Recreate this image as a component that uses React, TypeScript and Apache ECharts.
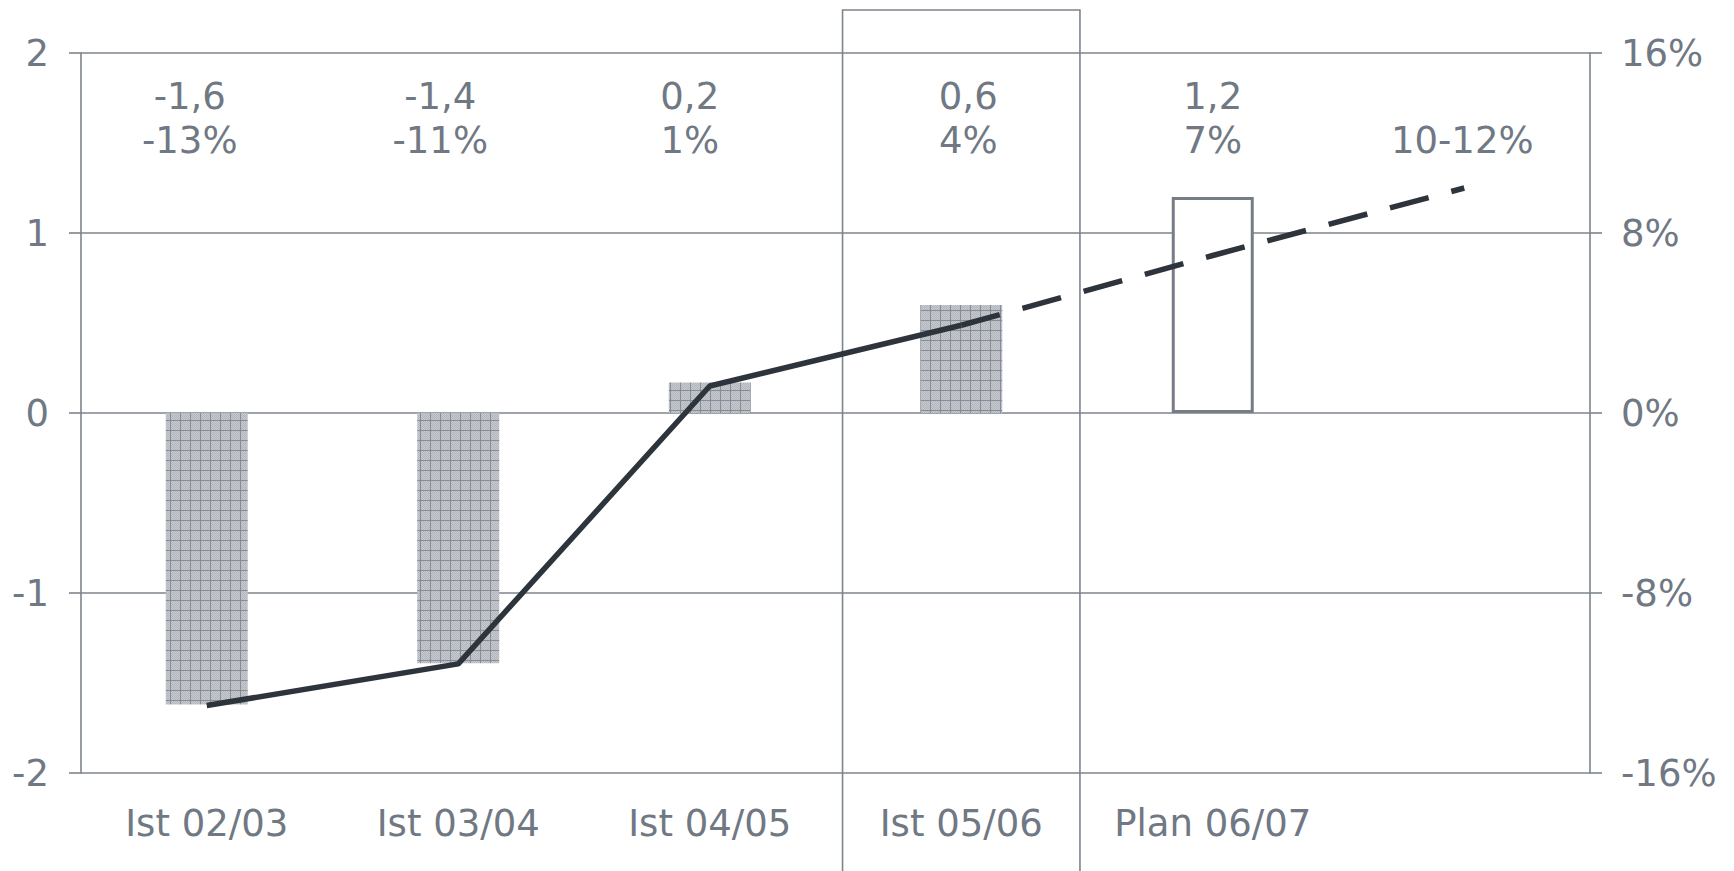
import React, { useEffect, useRef } from 'react';
import * as echarts from 'echarts';

// ---- data ----
const categories = ['Ist 02/03', 'Ist 03/04', 'Ist 04/05', 'Ist 05/06', 'Plan 06/07', ''];
const resultValues = [-1.62, -1.39, 0.17, 0.6, 1.2, null];
const growthActual = [-13, -11.15, 1.2, 3.9, null, null];
const growthPlan = [null, null, null, 3.9, 7, 10];
const valueLabels = ['-1,6', '-1,4', '0,2', '0,6', '1,2', ''];
const pctLabels = ['-13%', '-11%', '1%', '4%', '7%', '10-12%'];
const leftAxis = { min: -2, max: 2, interval: 1 };
const rightAxis = { min: -16, max: 16, interval: 8 };
const highlightCategory = 'Ist 05/06';
const planCategoryIndex = 4;

// ---- styles ----
const TEXT = '#707884';
const LINE_GRAY = '#7d848d';
const DARK = '#2d343c';
const FONT = 'DejaVu Sans';
const FS = 37;
const labelShift = [-17, -18, -20, 7, 0, -2];
const ROW1 = 1.756;
const ROW2 = 1.514;

function makePattern(): HTMLCanvasElement {
  const c = document.createElement('canvas');
  c.width = 10;
  c.height = 10;
  const ctx = c.getContext('2d')!;
  ctx.fillStyle = '#c6c9ce';
  ctx.fillRect(0, 0, 10, 10);
  ctx.fillStyle = '#b3b7bd';
  for (let y = 0; y < 10; y++) {
    for (let x = (y % 2); x < 10; x += 2) ctx.fillRect(x, y, 1, 1);
  }
  ctx.fillStyle = '#878d96';
  ctx.fillRect(0, 0, 10, 1);
  ctx.fillRect(0, 0, 1, 10);
  return c;
}

export default function App() {
  const ref = useRef<HTMLDivElement>(null);
  useEffect(() => {
    if (!ref.current) return;
    const chart = echarts.init(ref.current, null, { renderer: 'svg' });
    const pattern = { image: makePattern(), repeat: 'repeat' };

    const barData = resultValues.map((v, i) =>
      i === planCategoryIndex
        ? { value: v, itemStyle: { color: '#ffffff', borderColor: '#767d87', borderWidth: 3 } }
        : { value: v, itemStyle: { color: pattern } }
    );

    const labelSeries = (texts: string[], row: number) => ({
      type: 'scatter',
      yAxisIndex: 0,
      symbolSize: 1,
      itemStyle: { color: 'rgba(0,0,0,0)', opacity: 1 },
      silent: true,
      z: 5,
      data: texts.map((t, i) => ({
        value: [i, row],
        label: {
          show: t !== '',
          position: 'inside',
          formatter: t,
          offset: [labelShift[i], 0],
          color: TEXT,
          opacity: 1,
          fontFamily: FONT,
          fontSize: FS,
        },
      })),
    });

    chart.setOption({
      animation: false,
      grid: { left: 81, right: 144, top: 53, bottom: 98, containLabel: false },
      xAxis: {
        type: 'category',
        data: categories,
        boundaryGap: true,
        axisLine: { show: false },
        axisTick: { show: false },
        splitLine: { show: false },
        axisLabel: { color: TEXT, fontFamily: FONT, fontSize: FS, margin: 32, interval: 0 },
      },
      yAxis: [
        {
          type: 'value',
          min: leftAxis.min,
          max: leftAxis.max,
          interval: leftAxis.interval,
          position: 'left',
          axisLine: { show: true, lineStyle: { color: LINE_GRAY, width: 1.6 } },
          axisTick: { show: true, length: 12, lineStyle: { color: LINE_GRAY, width: 1.6 } },
          splitLine: { show: true, lineStyle: { color: LINE_GRAY, width: 1.6 } },
          axisLabel: { color: TEXT, fontFamily: FONT, fontSize: FS, margin: 32 },
        },
        {
          type: 'value',
          min: rightAxis.min,
          max: rightAxis.max,
          interval: rightAxis.interval,
          position: 'right',
          axisLine: { show: true, lineStyle: { color: LINE_GRAY, width: 1.6 } },
          axisTick: { show: true, length: 12, lineStyle: { color: LINE_GRAY, width: 1.6 } },
          splitLine: { show: false },
          axisLabel: { color: TEXT, fontFamily: FONT, fontSize: FS, margin: 31, formatter: '{value}%' },
        },
      ],
      series: [
        {
          type: 'bar',
          yAxisIndex: 0,
          data: barData,
          barWidth: '32.6%',
          z: 2,
        },
        {
          type: 'line',
          yAxisIndex: 1,
          data: growthActual,
          symbol: 'none',
          lineStyle: { color: DARK, width: 5.5 },
          z: 4,
        },
        {
          type: 'line',
          yAxisIndex: 1,
          data: growthPlan,
          symbol: 'none',
          lineStyle: { color: DARK, width: 5.5, type: [40, 23.5], cap: 'butt' },
          z: 4,
        },
        labelSeries(valueLabels, ROW1),
        labelSeries(pctLabels, ROW2),
      ],
    });

    const cx = chart.convertToPixel({ xAxisIndex: 0 }, highlightCategory) as number;
    const next = chart.convertToPixel({ xAxisIndex: 0 }, categories[planCategoryIndex]) as number;
    const band = next - cx;
    chart.setOption({
      graphic: [
        {
          type: 'rect',
          z: 1,
          silent: true,
          shape: { x: cx - 0.472 * band, y: 10, width: 0.944 * band, height: 900 },
          style: { fill: 'none', stroke: LINE_GRAY, lineWidth: 1.6 },
        },
      ],
    });

    return () => chart.dispose();
  }, []);

  return (
    <div
      ref={ref}
      style={{ position: 'absolute', left: 0, top: 0, width: 1734, height: 871, background: '#ffffff' }}
    />
  );
}
